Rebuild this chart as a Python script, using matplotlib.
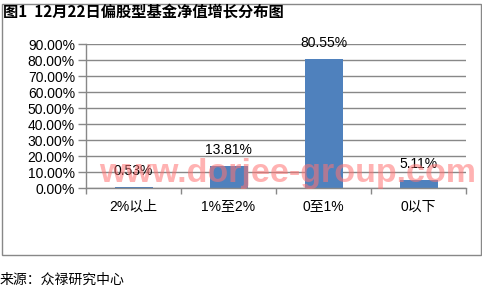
import matplotlib
matplotlib.use('Agg')
import matplotlib.pyplot as plt
from matplotlib.patches import Rectangle
from matplotlib.ticker import FuncFormatter

plt.rcParams['font.family'] = ['Liberation Sans', 'Noto Sans CJK SC', 'DejaVu Sans']

# data
categories = ['2%以上', '1%至2%', '0至1%', '0以下']
values = [0.53, 13.81, 80.55, 5.11]
y_ticks = [0, 10, 20, 30, 40, 50, 60, 70, 80, 90]

title = '图1  12月22日偏股型基金净值增长分布图'
source = '来源：众禄研究中心'
watermark = 'www.dorjee-group.com'

W, H = 482, 293
fig = plt.figure(figsize=(W / 100, H / 100), dpi=100)
fig.patch.set_facecolor('white')

# outer chart frame
fig.patches.append(Rectangle((1.5 / W, 1 - 255 / H), 479.5 / W, 251 / H,
                             transform=fig.transFigure, fill=False,
                             edgecolor='#888888', linewidth=1.0))

ax = fig.add_axes([86 / W, 1 - 188.3 / H, 380 / W, 144.3 / H])
x = list(range(len(categories)))
ax.bar(x, values, width=0.4, color='#4f81bd', zorder=2)

ax.set_xlim(-0.5, len(categories) - 0.5)
ax.set_ylim(0, 90)
ax.set_yticks(y_ticks)
ax.yaxis.set_major_formatter(FuncFormatter(lambda v, p: '%.2f%%' % v))
ax.set_xticks(x)
ax.set_xticklabels(categories)
ax.set_xticks([i - 0.5 for i in range(len(categories) + 1)], minor=True)
ax.tick_params(axis='x', which='major', length=0, pad=8, labelsize=10)
ax.tick_params(axis='x', which='minor', length=4, color='#888888', width=1)
ax.tick_params(axis='y', length=6, color='#888888', width=1, pad=2, labelsize=10)

ax.grid(axis='y', color='#888888', linewidth=1, zorder=1)
ax.set_axisbelow(True)
for s in ['top', 'right']:
    ax.spines[s].set_visible(False)
for s in ['left', 'bottom']:
    ax.spines[s].set_color('#888888')
    ax.spines[s].set_linewidth(1)

# watermark
fig.text(288 / W, 1 - 182 / H, watermark, ha='center', va='baseline',
         fontsize=24.5, fontweight='bold', family='Liberation Sans',
         color=(1.0, 0.45, 0.45), alpha=0.55, zorder=5)

# data labels
for xi, v in zip(x, values):
    ax.annotate('%.2f%%' % v, (xi, v), xytext=(0, 11.5), textcoords='offset points',
                ha='center', va='center', fontsize=10, zorder=6)

fig.text(3 / W, 1 - 12 / H, title, ha='left', va='center', fontsize=11,
         fontweight='bold', family=['Noto Sans CJK SC', 'DejaVu Sans'])
fig.text(0, 1 - 280 / H, source, ha='left', va='center', fontsize=10,
         family=['Noto Sans CJK SC', 'DejaVu Sans'])

fig.savefig('out.png', dpi=100)
